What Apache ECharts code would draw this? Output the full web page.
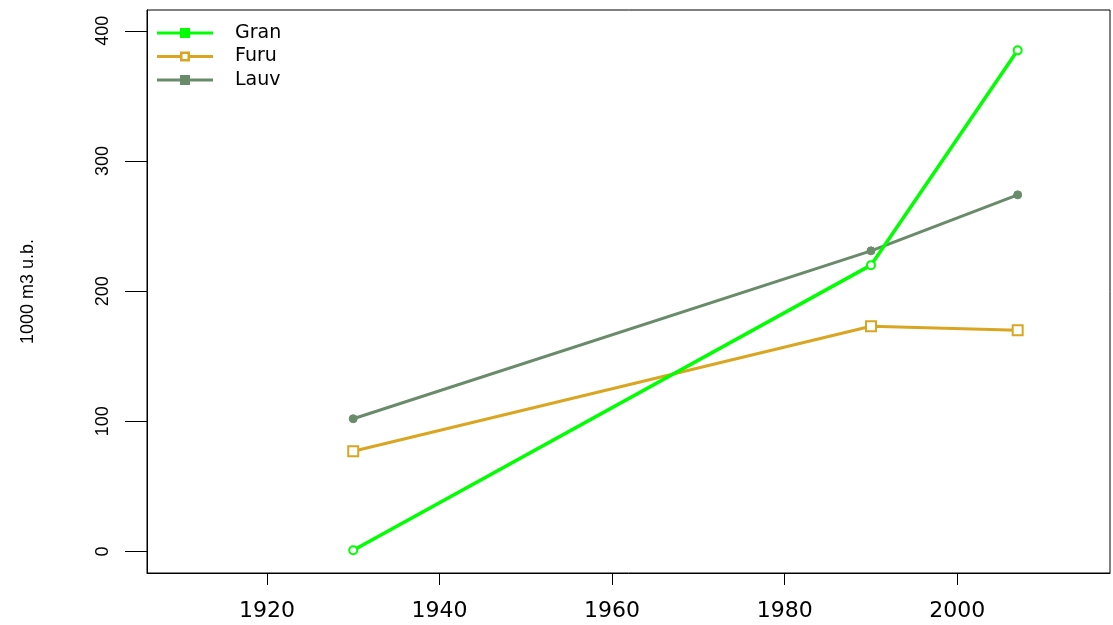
<!DOCTYPE html>
<html>
<head>
<meta charset="utf-8">
<script src="https://cdn.jsdelivr.net/npm/echarts@6/dist/echarts.min.js"></script>
<style>
html,body{margin:0;padding:0;background:#fff;}
#chart{width:1113px;height:625px;}
</style>
</head>
<body>
<div id="chart"></div>
<script>
const years = [1930, 1990, 2007];
const gran = [1, 220, 385];
const furu = [77, 173, 170];
const lauv = [102, 231, 274];
const xTicks = [1920, 1940, 1960, 1980, 2000];
const yTicks = [0, 100, 200, 300, 400];
const seriesNames = ['Gran', 'Furu', 'Lauv'];
const yTitle = '1000 m3 u.b.';

const cGran = '#00ff00', cFuru = '#DAA520', cLauv = '#698B69';
const pairs = arr => years.map((y, i) => [y, arr[i]]);

// legend icons: line with a square marker in the middle
const iconFilled = 'path://M0 3.5H23V0H33V3.5H56V6.5H33V10H23V6.5H0Z';
const iconHollow = 'path://M0 3.5H23V0H33V3.5H56V6.5H33V10H23V6.5H0Z M25.5 2.5V7.5H30.5V2.5Z';

const chart = echarts.init(document.getElementById('chart'), null, {renderer: 'canvas'});
chart.setOption({
  animation: false,
  backgroundColor: '#fff',
  grid: {left: 147, right: 3, top: 10, bottom: 52, show: true, borderColor: '#000', borderWidth: 1, backgroundColor: 'transparent'},
  legend: {
    orient: 'vertical', left: 152, top: 18,
    itemWidth: 56, itemHeight: 10, itemGap: 3.5, symbolKeepAspect: true,
    textStyle: {fontFamily: 'DejaVu Sans', fontSize: 19, color: '#000', lineHeight: 20, padding: [0, 0, 0, 17]},
    data: [
      {name: seriesNames[0], icon: iconFilled, itemStyle: {color: cGran, borderWidth: 0}},
      {name: seriesNames[1], icon: iconHollow, itemStyle: {color: cFuru, borderWidth: 0}},
      {name: seriesNames[2], icon: iconFilled, itemStyle: {color: cLauv, borderWidth: 0}}
    ]
  },
  xAxis: {
    type: 'value', min: 1906.1, max: 2017.7,
    axisLine: {show: true, onZero: false, lineStyle: {color: '#000', width: 1}},
    axisTick: {show: true, length: 12, customValues: xTicks, lineStyle: {color: '#000', width: 1}},
    axisLabel: {customValues: xTicks, margin: 27, fontFamily: 'DejaVu Sans', fontSize: 22, color: '#000',
                formatter: v => String(v)},
    splitLine: {show: false}
  },
  yAxis: {
    type: 'value', min: -16.5, max: 416,
    name: yTitle, nameLocation: 'middle', nameGap: 110, nameRotate: 90,
    nameTextStyle: {fontFamily: 'Liberation Sans', fontSize: 18, color: '#000'},
    axisLine: {show: true, onZero: false, lineStyle: {color: '#000', width: 1}},
    axisTick: {show: true, length: 22, customValues: yTicks, lineStyle: {color: '#000', width: 1}},
    axisLabel: {customValues: yTicks, rotate: 90, margin: 35, fontFamily: 'Liberation Sans', fontSize: 18, color: '#000',
                formatter: v => String(v)},
    splitLine: {show: false}
  },
  series: [
    {name: seriesNames[0], type: 'line', data: pairs(gran), symbol: 'emptyCircle', symbolSize: 8,
     lineStyle: {color: cGran, width: 3.5}, itemStyle: {color: cGran, borderColor: cGran, borderWidth: 2}, z: 3},
    {name: seriesNames[1], type: 'line', data: pairs(furu), symbol: 'rect', symbolSize: 10,
     lineStyle: {color: cFuru, width: 3}, itemStyle: {color: '#fff', borderColor: cFuru, borderWidth: 2}, z: 2},
    {name: seriesNames[2], type: 'line', data: pairs(lauv), symbol: 'circle', symbolSize: 8,
     lineStyle: {color: cLauv, width: 3}, itemStyle: {color: cLauv, borderColor: cLauv}, z: 2}
  ]
});
</script>
</body>
</html>
